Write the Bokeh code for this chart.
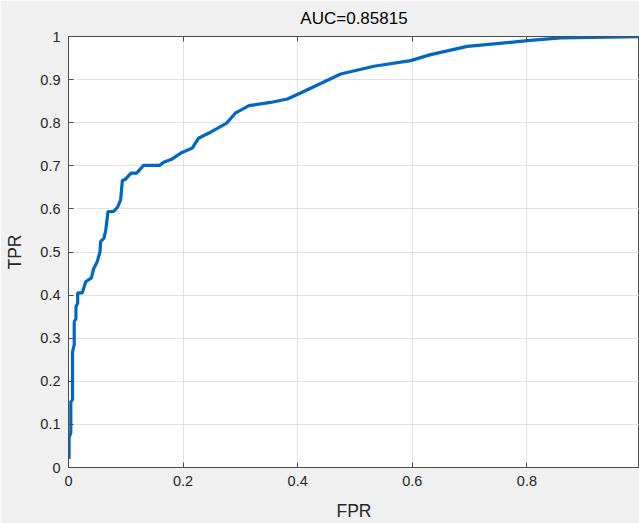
from bokeh.plotting import figure
from bokeh.models import LinearAxis, Range1d, FixedTicker, Title, CustomJSTickFormatter
from bokeh.embed import file_html
from bokeh.resources import INLINE

# ROC curve points
fpr = [0.001, 0.001, 0.004, 0.004, 0.007, 0.007, 0.010, 0.010, 0.013, 0.013,
       0.016, 0.016, 0.024, 0.030, 0.040, 0.044, 0.050, 0.055, 0.056, 0.062,
       0.065, 0.069, 0.079, 0.086, 0.091, 0.094, 0.0995, 0.109, 0.119, 0.131,
       0.159, 0.166, 0.181, 0.198, 0.216, 0.227, 0.245, 0.276, 0.291, 0.315,
       0.3525, 0.382, 0.405, 0.475, 0.533, 0.597, 0.632, 0.696, 0.806, 0.859,
       1.0]
tpr = [0.02, 0.07, 0.08, 0.152, 0.157, 0.268, 0.285, 0.338, 0.345, 0.373,
       0.381, 0.405, 0.405, 0.431, 0.44, 0.462, 0.477, 0.50, 0.524, 0.532,
       0.551, 0.594, 0.594, 0.605, 0.621, 0.666, 0.669, 0.683, 0.683, 0.701,
       0.701, 0.708, 0.716, 0.731, 0.741, 0.764, 0.776, 0.799, 0.822, 0.8395,
       0.847, 0.855, 0.869, 0.913, 0.931, 0.944, 0.958, 0.977, 0.991, 0.997,
       1.0]

x_ticks = [0, 0.2, 0.4, 0.6, 0.8, 1.0]
y_ticks = [0, 0.1, 0.2, 0.3, 0.4, 0.5, 0.6, 0.7, 0.8, 0.9, 1.0]
title_text = "AUC=0.85815"

FONT = "Liberation Sans"
AX = "#4d4d4d"
TXT = "#262626"

p = figure(width=639, height=523, output_backend="svg", toolbar_location=None,
           x_range=Range1d(0, 0.9965), y_range=Range1d(0, 1),
           min_border_left=68, min_border_right=0, min_border_top=36,
           min_border_bottom=56, x_axis_location=None, y_axis_location=None)
p.border_fill_color = "#f0f0f0"
p.background_fill_color = "white"
p.outline_line_color = AX
p.outline_line_width = 1

p.line(fpr, tpr, line_color="#0068c0", line_width=3.2)

xa = LinearAxis(ticker=FixedTicker(ticks=x_ticks), axis_label="FPR")
ya = LinearAxis(ticker=FixedTicker(ticks=y_ticks), axis_label="TPR")
for ax in (xa, ya):
    ax.axis_line_color = AX
    ax.major_tick_line_color = AX
    ax.major_tick_in = 5
    ax.major_tick_out = 0
    ax.minor_tick_line_color = None
    ax.major_label_text_font = FONT
    ax.major_label_text_font_size = "14.5px"
    ax.major_label_text_color = TXT
    ax.major_label_standoff = 8
    ax.axis_label_text_font = FONT
    ax.axis_label_text_font_size = "17.5px"
    ax.axis_label_text_font_style = "normal"
    ax.axis_label_text_color = TXT
xa.axis_label_standoff = 12
ya.axis_label_standoff = 12
p.add_layout(xa, "below")
p.add_layout(ya, "left")

top = LinearAxis(ticker=FixedTicker(ticks=x_ticks))
top.axis_line_color = AX
top.major_tick_line_color = AX
top.major_tick_in = 5
top.major_tick_out = 0
top.minor_tick_line_color = None
top.formatter = CustomJSTickFormatter(code="return '';")
top.major_label_standoff = 0
p.add_layout(top, "above")

p.add_layout(Title(text=title_text, align="center", text_font=FONT,
                   text_font_size="17px", text_font_style="normal",
                   text_color="#000000", standoff=14, vertical_align="top"), "above")

p.xgrid.ticker = FixedTicker(ticks=x_ticks)
p.ygrid.ticker = FixedTicker(ticks=y_ticks)
p.xgrid.grid_line_color = "#e3e3e3"
p.ygrid.grid_line_color = "#e3e3e3"

open("out.html", "w").write(file_html(p, INLINE))
